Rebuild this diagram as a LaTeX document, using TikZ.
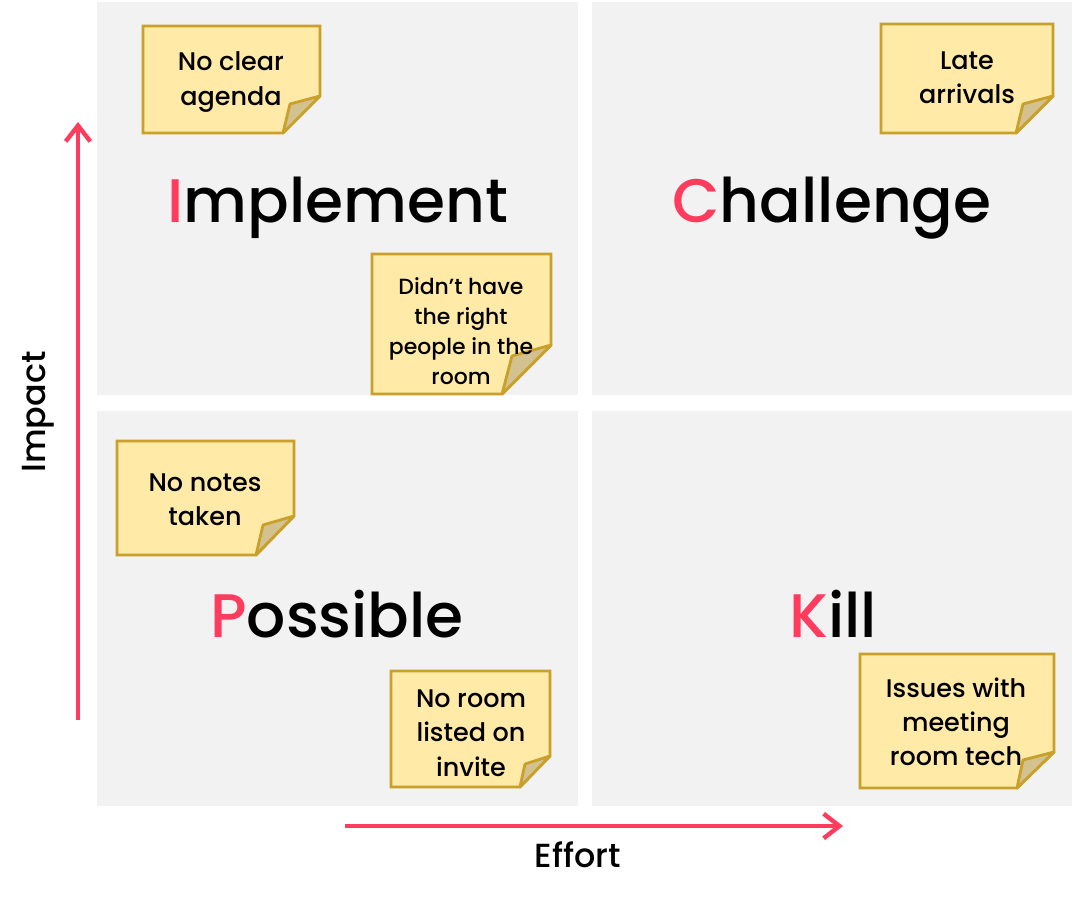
\documentclass[tikz,border=0pt]{standalone}
\usepackage{fontspec}
\setmainfont{Poppins}[UprightFont=* Medium,BoldFont=* SemiBold]
\usetikzlibrary{arrows.meta,calc}
\definecolor{axPink}{HTML}{FF3B5E}
\definecolor{qdGray}{HTML}{F2F2F2}
\definecolor{ntFill}{HTML}{FFEAA8}
\definecolor{ntLine}{HTML}{C9A12A}
\definecolor{ntFold}{HTML}{D3C190}
\begin{document}
\begin{tikzpicture}[
    x=0.02cm,y=-0.02cm,
    qdBk/.style={fill=qdGray,draw=none},
    qdLbl/.style={font=\fontsize{35}{40}\selectfont},
    ntBk/.style={fill=ntFill,draw=ntLine,line width=1.6pt,line join=miter},
    ntFd/.style={fill=ntFold,draw=ntLine,line width=1.6pt,line join=round},
    ntTx/.style={align=center,font=\fontsize{14.5}{19.5}\selectfont},
    axArr/.style={draw=axPink,line width=2.5pt,-{Straight Barb[length=9pt,width=14pt,line width=2.5pt]}},
    axLbl/.style={font=\fontsize{19}{22}\selectfont},
]
\useasboundingbox[fill=white] (0,0) rectangle (1075,900);
% Quadrants
\fill[qdBk] (97,2) rectangle (578,395);
\fill[qdBk] (592,2) rectangle (1072,395);
\fill[qdBk] (97,411) rectangle (578,806);
\fill[qdBk] (592,411) rectangle (1072,806);
\node[qdLbl] (QI) at (338,208) {\textcolor{axPink}{I}mplement};
\node[qdLbl] (QC) at (832,208) {\textcolor{axPink}{C}hallenge};
\node[qdLbl] (QP) at (337,614) {\textcolor{axPink}{P}ossible};
\node[qdLbl] (QK) at (833,614) {\textcolor{axPink}{K}ill};
% Axes
\coordinate (AYs) at (78,720);
\coordinate (AYe) at (78,122);
\coordinate (AXs) at (345,826);
\coordinate (AXe) at (843,826);
\draw[axArr] (AYs) -- (AYe);
\draw[axArr] (AXs) -- (AXe);
\node[axLbl,rotate=90] (LY) at (38,412) {Impact};
\node[axLbl] (LX) at (578,855) {Effort};
% Sticky notes
\draw[ntBk] (143,26) -- (320,26) -- (320,96) -- (283,133) -- (143,133) -- cycle;
\draw[ntFd] (320,96) -- (290,104) -- (283,133) -- cycle;
\node[ntTx] (N1) at (231,82) {No clear\\agenda};
\draw[ntBk] (372,254) -- (551,254) -- (551,345) -- (502,394) -- (372,394) -- cycle;
\draw[ntFd] (551,345) -- (512,356) -- (502,394) -- cycle;
\node[ntTx,font=\fontsize{12.5}{17}\selectfont] (N2) at (461,331) {Didn’t have\\the right\\people in the\\room};
\draw[ntBk] (881,24) -- (1053,24) -- (1053,96) -- (1016,133) -- (881,133) -- cycle;
\draw[ntFd] (1053,96) -- (1023,104) -- (1016,133) -- cycle;
\node[ntTx] (N3) at (967,78) {Late\\arrivals};
\draw[ntBk] (117,441) -- (294,441) -- (294,516) -- (256,555) -- (117,555) -- cycle;
\draw[ntFd] (294,516) -- (263,525) -- (256,555) -- cycle;
\node[ntTx] (N4) at (205,500) {No notes\\taken};
\draw[ntBk] (391,671) -- (550,671) -- (550,756) -- (520,787) -- (391,787) -- cycle;
\draw[ntFd] (550,756) -- (525,764) -- (520,787) -- cycle;
\node[ntTx] (N5) at (471,733) {No room\\listed on\\invite};
\draw[ntBk] (860,654) -- (1054,654) -- (1054,752) -- (1017,788) -- (860,788) -- cycle;
\draw[ntFd] (1054,752) -- (1023,760) -- (1017,788) -- cycle;
\node[ntTx] (N6) at (956,722) {Issues with\\meeting\\room tech};
\end{tikzpicture}
\end{document}
